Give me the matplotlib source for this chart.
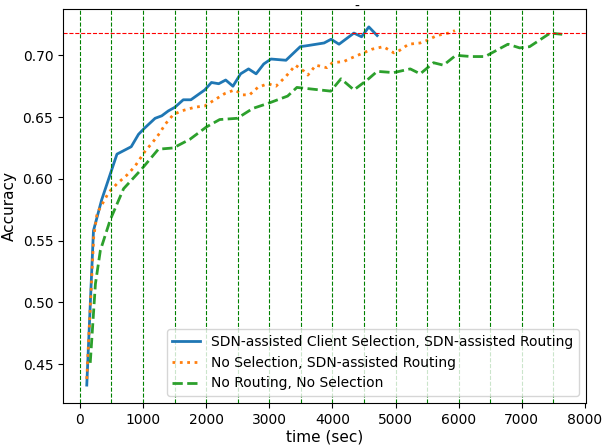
import numpy as np
import matplotlib
matplotlib.use('Agg')
import matplotlib.pyplot as plt

# tiempos (s) y precisión de cada configuración
t_sdn = [110, 216, 346, 588, 814, 929, 1024, 1192, 1297, 1402, 1507, 1638, 1759,
         1979, 2084, 2200, 2310, 2425, 2546, 2672, 2792, 2913, 3028, 3265, 3491,
         3625, 3869, 3979, 4105, 4210, 4341, 4462, 4577, 4709]
acc_sdn = [0.433, 0.558, 0.583, 0.620, 0.626, 0.636, 0.641, 0.649, 0.651, 0.655,
           0.658, 0.664, 0.664, 0.672, 0.678, 0.677, 0.680, 0.675, 0.685, 0.689,
           0.685, 0.693, 0.697, 0.696, 0.707, 0.708, 0.710, 0.713, 0.709, 0.713,
           0.718, 0.715, 0.723, 0.716]

t_nosel = [110, 220, 273, 457, 588, 745, 871, 1029, 1160, 1265, 1349, 1480, 1611,
           1822, 1979, 2137, 2294, 2452, 2583, 2688, 2819, 2976, 3107, 3265, 3415,
           3554, 3612, 3738, 3911, 4000, 4184, 4263, 4446, 4630, 4808, 4972, 5065,
           5207, 5391, 5496, 5654, 5837, 5941]
acc_nosel = [0.438, 0.553, 0.572, 0.589, 0.596, 0.603, 0.610, 0.622, 0.630, 0.637,
             0.644, 0.652, 0.655, 0.658, 0.659, 0.664, 0.669, 0.672, 0.668, 0.668,
             0.674, 0.677, 0.675, 0.683, 0.692, 0.687, 0.684, 0.692, 0.690, 0.694,
             0.695, 0.697, 0.701, 0.705, 0.707, 0.702, 0.704, 0.709, 0.710, 0.712,
             0.716, 0.718, 0.720]

t_norout = [165, 247, 325, 483, 693, 981, 1244, 1480, 1743, 2005, 2215, 2493, 2740,
            2976, 3291, 3438, 3974, 4136, 4341, 4551, 4709, 4972, 5233, 5391, 5602,
            5759, 5955, 6200, 6420, 6598, 6780, 6966, 7123, 7450, 7640]
acc_norout = [0.451, 0.515, 0.542, 0.567, 0.592, 0.608, 0.624, 0.625, 0.632, 0.642,
              0.648, 0.649, 0.657, 0.661, 0.667, 0.674, 0.671, 0.681, 0.672, 0.680,
              0.687, 0.686, 0.689, 0.685, 0.694, 0.692, 0.700, 0.699, 0.699, 0.704,
              0.709, 0.706, 0.707, 0.718, 0.717]

objetivo = 0.718
marcas_t = np.arange(0, 8000, 500)

etiquetas = ['SDN-assisted Client Selection, SDN-assisted Routing',
             'No Selection, SDN-assisted Routing',
             'No Routing, No Selection']

fig = plt.figure(figsize=(6.02, 4.45), dpi=100)
ax = fig.add_axes([63 / 602, 42 / 445, 523 / 602, 394 / 445])

ax.plot(t_sdn, acc_sdn, '-', lw=2, label=etiquetas[0])
ax.plot(t_nosel, acc_nosel, ':', lw=2, label=etiquetas[1])
ax.plot(t_norout, acc_norout, '--', lw=2, label=etiquetas[2])

ax.axhline(objetivo, color='red', ls='--', lw=0.8)
for m in marcas_t:
    ax.axvline(m, color='green', ls='--', lw=0.8)

ax.set_xlabel('time (sec)', fontsize=11, labelpad=2)
ax.set_ylabel('Accuracy', fontsize=11)
# el título es solo un guion, pegado al borde superior
fig.text(357 / 602, 1.0, '-', ha='center', va='top', fontsize=10)
ax.legend(loc='lower right', fontsize=10)

fig.savefig('out.png', dpi=100)
